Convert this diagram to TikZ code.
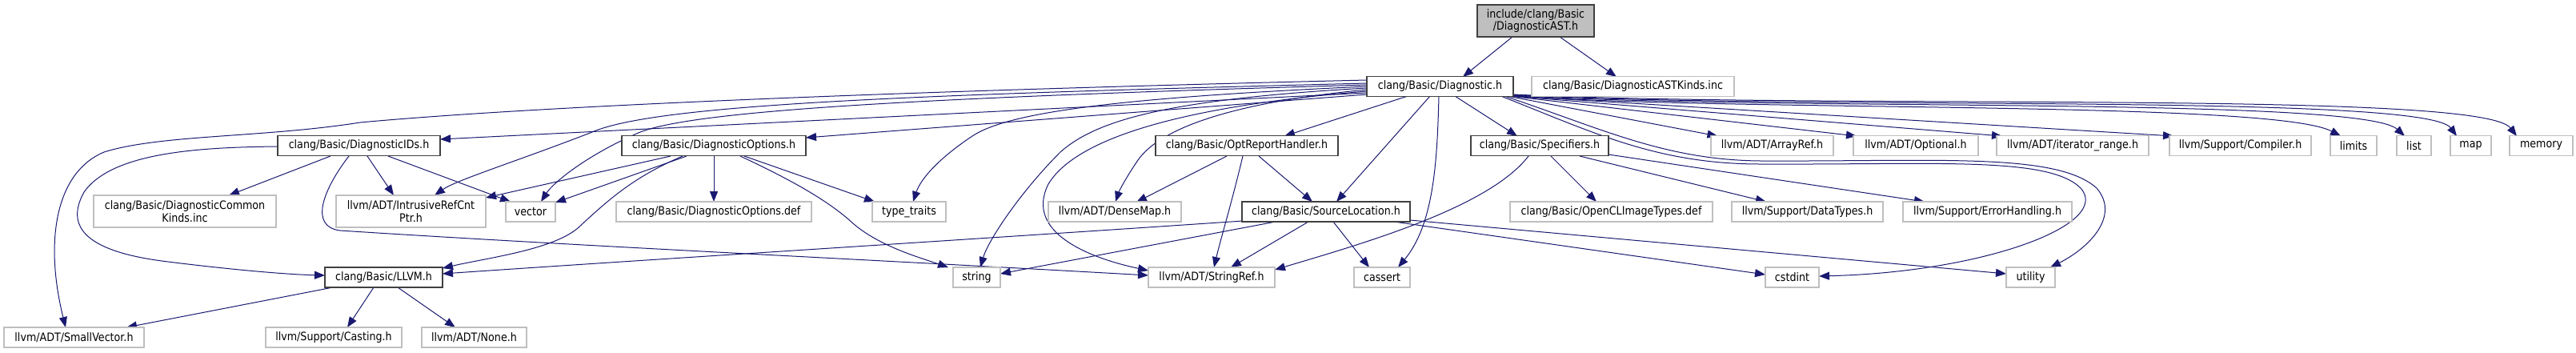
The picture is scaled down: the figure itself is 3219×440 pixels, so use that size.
\documentclass[tikz,border=0pt]{standalone}
\usepackage{fontspec}
\setmainfont[FakeStretch=0.88]{DejaVu Sans}
\usetikzlibrary{calc,arrows.meta,backgrounds}
\definecolor{edgeblue}{HTML}{191970}
\definecolor{boxdark}{HTML}{404040}
\definecolor{boxlight}{HTML}{BFBFBF}
\definecolor{topfill}{HTML}{BFBFBF}
\newcommand\nodefont{\fontsize{7.2}{7.9}\selectfont}
\tikzset{
  docbox/.style={draw=boxdark, line width=0.6pt, fill=white, inner sep=0pt, font=\nodefont, align=center, minimum height=12.5pt},
  extbox/.style={draw=boxlight, line width=0.6pt, fill=white, inner sep=0pt, font=\nodefont, align=center, minimum height=12.5pt},
  twoline/.style={minimum height=20pt},
  dep/.style={draw=edgeblue, line width=0.5pt, -{Triangle[length=6.5pt,width=5pt]}}
}
\begin{document}
\begin{tikzpicture}[x=0.5pt,y=-0.5pt]
\useasboundingbox (0,0) rectangle (3219,440);
% row 0
\node[docbox,twoline,fill=topfill,minimum width=73pt] (ast) at (1919,26) {include/clang/Basic\\/DiagnosticAST.h};
% row 1
\node[docbox,minimum width=91.5pt] (diag) at (1799.5,108) {clang/Basic/Diagnostic.h};
\node[extbox,minimum width=126.5pt] (astk) at (2040.5,108) {clang/Basic/DiagnosticASTKinds.inc};
% row 2
\node[docbox,minimum width=101.5pt] (ids) at (448.5,182) {clang/Basic/DiagnosticIDs.h};
\node[docbox,minimum width=115pt] (opts) at (892,182) {clang/Basic/DiagnosticOptions.h};
\node[docbox,minimum width=114pt] (orh) at (1558,182) {clang/Basic/OptReportHandler.h};
\node[docbox,minimum width=86pt] (spec) at (1924,182) {clang/Basic/Specifiers.h};
\node[extbox,minimum width=76.5pt] (arr) at (2214.5,182) {llvm/ADT/ArrayRef.h};
\node[extbox,minimum width=78pt] (opt) at (2394,182) {llvm/ADT/Optional.h};
\node[extbox,minimum width=95pt] (itr) at (2590,182) {llvm/ADT/iterator\_range.h};
\node[extbox,minimum width=88.5pt] (comp) at (2799.5,182) {llvm/Support/Compiler.h};
\node[extbox,minimum width=29pt] (lim) at (2941,182) {limits};
\node[extbox,minimum width=21.5pt] (lst) at (3016.5,182) {list};
\node[extbox,minimum width=25.5pt] (map) at (3087.5,182) {map};
\node[extbox,minimum width=39.5pt] (mem) at (3175.5,182) {memory};
% row 3
\node[extbox,twoline,minimum width=114pt] (dck) at (231,264) {clang/Basic/DiagnosticCommon\\Kinds.inc};
\node[extbox,twoline,minimum width=93.5pt] (irc) at (513.5,264) {llvm/ADT/IntrusiveRefCnt\\Ptr.h};
\node[extbox,minimum width=31pt] (vec) at (663,264.5) {vector};
\node[extbox,minimum width=122pt] (odef) at (892,264.5) {clang/Basic/DiagnosticOptions.def};
\node[extbox,minimum width=46pt] (tt) at (1136,264.5) {type\_traits};
\node[extbox,minimum width=83pt] (dm) at (1393,264.5) {llvm/ADT/DenseMap.h};
\node[docbox,minimum width=105pt] (sl) at (1657,264.5) {clang/Basic/SourceLocation.h};
\node[extbox,minimum width=126.5pt] (ocl) at (2013.5,264.5) {clang/Basic/OpenCLImageTypes.def};
\node[extbox,minimum width=94.5pt] (dt) at (2258.5,264.5) {llvm/Support/DataTypes.h};
\node[extbox,minimum width=105.5pt] (eh) at (2483.5,264.5) {llvm/Support/ErrorHandling.h};
% row 4
\node[docbox,minimum width=73.5pt] (llvm) at (479.5,346.5) {clang/Basic/LLVM.h};
\node[extbox,minimum width=29.5pt] (str) at (1220.5,346.5) {string};
\node[extbox,minimum width=79pt] (sref) at (1514,346.5) {llvm/ADT/StringRef.h};
\node[extbox,minimum width=35pt] (cas) at (1727,346.5) {cassert};
\node[extbox,minimum width=33.5pt] (cst) at (2239.5,346.5) {cstdint};
\node[extbox,minimum width=30.5pt] (utl) at (2537.5,346.5) {utility};
% row 5
\node[extbox,minimum width=87.5pt] (sv) at (92.5,421.5) {llvm/ADT/SmallVector.h};
\node[extbox,minimum width=85pt] (cast) at (417,421.5) {llvm/Support/Casting.h};
\node[extbox,minimum width=65.5pt] (none) at (592.5,421.5) {llvm/ADT/None.h};

\begin{scope}[on background layer]
% top
\draw[dep] ($(ast)+(-29,20)$) -- ($(diag)+(28.5,-12)$);
\draw[dep] ($(ast)+(30,20)$) -- ($(astk)+(-20.5,-12)$);
% Diagnostic.h to the left
\draw[dep] ($(diag)+(-91.5,-8)$) .. controls (1200,112) and (700,130) .. (450,153) .. controls (330,172) and (200,168) .. (130,190) .. controls (70,215) and (55,300) .. ($(sv)+(-10.5,-12.5)$);
\draw[dep] ($(diag)+(-91.5,-4)$) .. controls (1150,118) and (820,130) .. (740,165) .. controls (650,200) and (570,225) .. ($(irc)+(29.5,-20)$);
\draw[dep] ($(diag)+(-91.5,-2)$) .. controls (1150,122) and (870,138) .. (800,165) .. controls (730,195) and (690,230) .. ($(vec)+(13,-12.5)$);
\draw[dep] ($(diag)+(-91.5,8)$) -- ($(ids)+(101.5,-8)$);
\draw[dep] ($(diag)+(-91.5,10)$) -- ($(opts)+(115,-10)$);
\draw[dep] ($(diag)+(-91.5,0)$) .. controls (1400,122) and (1260,140) .. (1215,170) .. controls (1170,200) and (1150,225) .. ($(tt)+(5,-12.5)$);
\draw[dep] ($(diag)+(-91.5,2)$) .. controls (1460,124) and (1370,150) .. (1325,190) .. controls (1275,240) and (1235,300) .. ($(str)+(4.5,-12.5)$);
\draw[dep] ($(diag)+(-91.5,4)$) .. controls (1540,128) and (1450,160) .. (1422,200) .. controls (1405,225) and (1398,240) .. ($(dm)+(1,-12.5)$);
\draw[dep] ($(diag)+(-91.5,6)$) .. controls (1450,135) and (1340,180) .. (1310,230) .. controls (1280,290) and (1360,322) .. ($(sref)+(-79,-8.5)$);
% Diagnostic.h downwards
\draw[dep] ($(diag)+(-40.5,12)$) -- ($(orh)+(47,-12)$);
\draw[dep] ($(diag)+(-12.5,12)$) -- ($(sl)+(13,-12.5)$);
\draw[dep] ($(diag)+(-1.5,12)$) .. controls (1796,200) and (1792,280) .. ($(cas)+(20,-12.5)$);
\draw[dep] ($(diag)+(18.5,12)$) -- ($(spec)+(-28,-12)$);
% Diagnostic.h to the right (all leave the lower right corner)
\draw[dep] ($(diag)+(84,12)$) -- ($(arr)+(-68,-12)$);
\draw[dep] ($(diag)+(87,12)$) -- ($(opt)+(-74,-12)$);
\draw[dep] ($(diag)+(89,12)$) -- ($(itr)+(-88,-12)$);
\draw[dep] ($(diag)+(91,12)$) -- ($(comp)+(-83.5,-12)$);
\draw[dep] ($(diag)+(91.5,11.5)$) .. controls (2150,140) and (2840,125) .. ($(lim)+(-16,-12)$);
\draw[dep] ($(diag)+(91.5,11)$) .. controls (2200,139) and (2950,120) .. ($(lst)+(-11.5,-12)$);
\draw[dep] ($(diag)+(91.5,10.5)$) .. controls (2250,138) and (3030,116) .. ($(map)+(-17.5,-12)$);
\draw[dep] ($(diag)+(91.5,10)$) .. controls (2300,137) and (3100,112) .. ($(mem)+(-30.5,-12)$);
\draw[dep] ($(diag)+(80.5,12)$) .. controls (2000,160) and (2080,200) .. (2200,201) .. controls (2420,202) and (2570,190) .. (2620,235) .. controls (2650,270) and (2610,310) .. ($(utl)+(24.5,-12.5)$);
\draw[dep] ($(diag)+(76,12)$) .. controls (1990,165) and (2070,205) .. (2200,205) .. controls (2420,206) and (2560,195) .. (2600,235) .. controls (2640,280) and (2480,340) .. ($(cst)+(33.5,-1.5)$);
% Specifiers.h
\draw[dep] ($(spec)+(-14,13)$) .. controls (1860,260) and (1700,305) .. ($(sref)+(79,-9.5)$);
\draw[dep] ($(spec)+(14,13)$) -- ($(ocl)+(-18.5,-12.5)$);
\draw[dep] ($(spec)+(50,13)$) -- ($(dt)+(-51.5,-12.5)$);
\draw[dep] ($(spec)+(86,11)$) -- ($(eh)+(-78.5,-12.5)$);
% OptReportHandler.h
\draw[dep] ($(orh)+(-25,13)$) -- ($(dm)+(27,-12)$);
\draw[dep] ($(orh)+(-5,13)$) .. controls (1540,250) and (1525,300) .. ($(sref)+(3,-12.5)$);
\draw[dep] ($(orh)+(15,13)$) -- ($(sl)+(-17,-12.5)$);
% SourceLocation.h
\draw[dep] ($(sl)+(-22,12.5)$) -- ($(sref)+(24,-12.5)$);
\draw[dep] ($(sl)+(9,12.5)$) -- ($(cas)+(-16,-12.5)$);
\draw[dep] ($(sl)+(-63,12.5)$) -- ($(str)+(29.5,-4.5)$);
\draw[dep] ($(sl)+(-104,11.5)$) .. controls (1200,300) and (800,325) .. ($(llvm)+(73.5,-4.5)$);
\draw[dep] ($(sl)+(85,12.5)$) -- ($(cst)+(-33.5,-3.5)$);
\draw[dep] ($(sl)+(105,10.5)$) -- ($(utl)+(-30.5,-4.5)$);
% DiagnosticIDs.h
\draw[dep] ($(ids)+(-101.5,1)$) .. controls (250,184) and (140,190) .. (105,240) .. controls (80,285) and (110,315) .. (210,327) .. controls (290,337) and (360,343) .. ($(llvm)+(-73.5,-2.5)$);
\draw[dep] ($(ids)+(-35.5,13)$) -- ($(dck)+(55,-20)$);
\draw[dep] ($(ids)+(10.5,13)$) -- ($(irc)+(-21.5,-20)$);
\draw[dep] ($(ids)+(36.5,13)$) -- ($(vec)+(-25,-12.5)$);
\draw[dep] ($(ids)+(-12.5,13)$) .. controls (405,235) and (385,283) .. (425,288) .. controls (700,306) and (1100,325) .. ($(sref)+(-79,-2.5)$);
% DiagnosticOptions.h
\draw[dep] ($(opts)+(-54,13)$) -- ($(irc)+(93.5,-17)$);
\draw[dep] ($(opts)+(-34,13)$) -- ($(vec)+(31,-11.5)$);
\draw[dep] ($(opts)+(-39,13)$) .. controls (790,222) and (760,250) .. (722,285) .. controls (690,312) and (610,322) .. ($(llvm)+(73.5,-11.5)$);
\draw[dep] ($(opts)+(0,13)$) -- ($(odef)+(0,-12.5)$);
\draw[dep] ($(opts)+(38,13)$) -- ($(tt)+(-43,-12.5)$);
\draw[dep] ($(opts)+(33,13)$) .. controls (1000,230) and (1040,255) .. (1067,280) .. controls (1100,308) and (1150,322) .. ($(str)+(-35.5,-12.5)$);
% LLVM.h
\draw[dep] ($(llvm)+(-63.5,12.5)$) -- ($(sv)+(65.5,-12.5)$);
\draw[dep] ($(llvm)+(-12.5,12.5)$) -- ($(cast)+(17,-12.5)$);
\draw[dep] ($(llvm)+(17.5,12.5)$) -- ($(none)+(-23.5,-12.5)$);
\end{scope}
\end{tikzpicture}
\end{document}
